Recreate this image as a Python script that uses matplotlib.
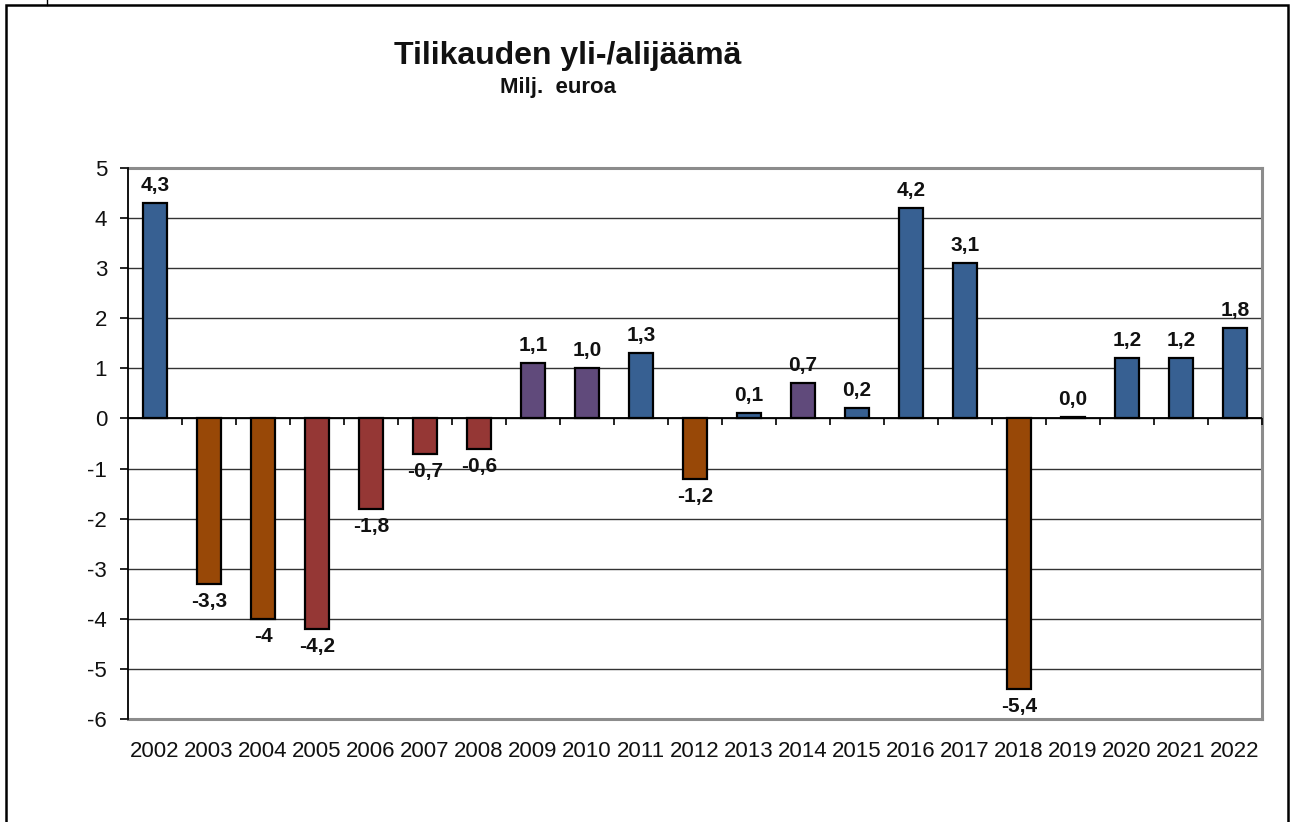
import matplotlib
matplotlib.use("Agg")
import matplotlib.pyplot as plt
import numpy as np
from matplotlib.patches import Rectangle
from matplotlib.lines import Line2D

plt.rcParams['font.family'] = ['Liberation Sans', 'DejaVu Sans']

# Data
vuodet = [str(v) for v in range(2002, 2023)]
arvot = [4.3, -3.3, -4.0, -4.2, -1.8, -0.7, -0.6, 1.1, 1.0, 1.3, -1.2,
         0.1, 0.7, 0.2, 4.2, 3.1, -5.4, 0.03, 1.2, 1.2, 1.8]
nimet = ["4,3", "-3,3", "-4", "-4,2", "-1,8", "-0,7", "-0,6", "1,1", "1,0", "1,3", "-1,2",
         "0,1", "0,7", "0,2", "4,2", "3,1", "-5,4", "0,0", "1,2", "1,2", "1,8"]
ryhmat = ["b", "o", "o", "r", "r", "r", "r", "p", "p", "b", "o",
          "b", "p", "b", "b", "b", "o", "b", "b", "b", "b"]

varit = {"b": "#376092", "o": "#984807", "r": "#953735", "p": "#604A7B"}

W, H = 1291, 822
fig = plt.figure(figsize=(W / 100, H / 100), dpi=100)

# outer frame (bottom edge is cut off)
fig.patches.append(Rectangle((6 / W, -0.1), (1288 - 6) / W, (H - 5) / H + 0.1,
                             transform=fig.transFigure, fill=False,
                             edgecolor="black", linewidth=1.8))
fig.lines.append(Line2D([47 / W, 47 / W], [1 - 5 / H, 1.0], transform=fig.transFigure,
                        color="black", linewidth=1))

ax = fig.add_axes([128 / W, 1 - 719 / H, (1262 - 128) / W, (719 - 168) / H])

x = np.arange(len(vuodet))
ax.bar(x, arvot, width=0.43, color=[varit[r] for r in ryhmat],
       edgecolor="black", linewidth=1.6, zorder=3)

ax.set_xlim(-0.5, len(vuodet) - 0.5)
ax.set_ylim(-6, 5)
ax.set_yticks(range(-6, 6))
ax.set_yticklabels([str(v) for v in range(-6, 6)])
ax.set_xticks(x)
ax.set_xticklabels(vuodet)

ax.tick_params(axis="y", direction="out", length=6, width=1.2, pad=9,
               labelsize=16, colors="black")
ax.tick_params(axis="x", length=0, pad=16, labelsize=16)
for t in ax.get_xticklabels() + ax.get_yticklabels():
    t.set_color("#111111")

# grid
for v in range(-5, 5):
    ax.axhline(v, color="#333333", linewidth=1.0, zorder=1)

for side in ["top", "right", "bottom"]:
    ax.spines[side].set_color("#8c8c8c")
    ax.spines[side].set_linewidth(2.2)
ax.spines["left"].set_color("black")
ax.spines["left"].set_linewidth(1.3)
ax.spines["left"].set_zorder(4)

# zero axis with ticks between categories
ax.axhline(0, color="black", linewidth=1.3, zorder=4)
rajat = x + 0.5
ax.vlines(rajat, -0.14, 0, color="black", linewidth=1.2, zorder=4, clip_on=False)

# value labels
for xi, v, s in zip(x, arvot, nimet):
    if v >= 0:
        ax.annotate(s, (xi, v), xytext=(0, 6), textcoords="offset points",
                    ha="center", va="bottom", fontsize=15, fontweight="bold",
                    color="#111111", zorder=5)
    else:
        ax.annotate(s, (xi, v), xytext=(0, -6), textcoords="offset points",
                    ha="center", va="top", fontsize=15, fontweight="bold",
                    color="#111111", zorder=5)

fig.text(568 / W, 1 - 56 / H, "Tilikauden yli-/alijäämä", ha="center", va="center",
         fontsize=23, fontweight="bold", color="#111111")
fig.text(558 / W, 1 - 88 / H, "Milj.  euroa", ha="center", va="center",
         fontsize=16, fontweight="bold", color="#111111")

fig.savefig("out.png", dpi=100)
